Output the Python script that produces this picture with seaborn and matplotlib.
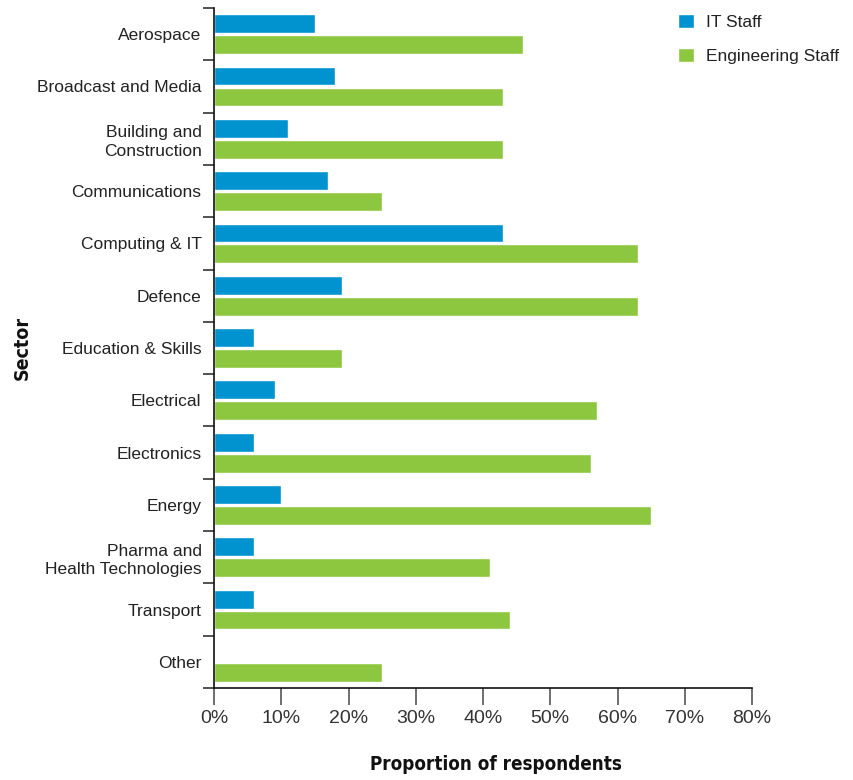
import numpy as np
import pandas as pd
import matplotlib
matplotlib.use("Agg")
import matplotlib.pyplot as plt
import seaborn as sns
from matplotlib.ticker import PercentFormatter

sectors = [
    "Aerospace", "Broadcast and Media", "Building and\nConstruction",
    "Communications", "Computing & IT", "Defence", "Education & Skills",
    "Electrical", "Electronics", "Energy", "Pharma and\nHealth Technologies",
    "Transport", "Other",
]
it_staff = [15, 18, 11, 17, 43, 19, 6, 9, 6, 10, 6, 6, 0]
eng_staff = [46, 43, 43, 25, 63, 63, 19, 57, 56, 65, 41, 44, 25]
groups = ["IT Staff", "Engineering Staff"]
colors = ["#0093D0", "#8DC63F"]
x_ticks = [0, 10, 20, 30, 40, 50, 60, 70, 80]

df = pd.DataFrame({
    "Sector": sectors * 2,
    "Value": it_staff + eng_staff,
    "Group": [groups[0]] * len(sectors) + [groups[1]] * len(sectors),
})

sns.set_theme(style="white")
plt.rcParams["font.family"] = ["Liberation Sans", "DejaVu Sans"]

fig = plt.figure(figsize=(8.54, 7.8), dpi=100)
ax = fig.add_axes([0.2506, 0.1179, 0.63, 0.8718])

sns.barplot(data=df, y="Sector", x="Value", hue="Group", orient="h",
            palette=colors, width=0.8, gap=0.1, saturation=1,
            order=sectors, hue_order=groups, ax=ax, legend=True)

ax.set_xlim(0, 80)
ax.set_ylim(len(sectors) - 0.5, -0.5)
ax.set_xticks(x_ticks)
ax.xaxis.set_major_formatter(PercentFormatter(decimals=0))
ax.tick_params(axis="x", direction="out", length=12, width=1.2,
               color="#555555", labelsize=14, labelcolor="#333333", pad=4,
               bottom=True)
ax.tick_params(axis="y", which="major", length=0, labelsize=12.5,
               labelcolor="#222222", pad=9)
ax.set_yticks(np.arange(-0.5, len(sectors)), minor=True)
ax.tick_params(axis="y", which="minor", direction="out", length=8,
               width=1.2, color="#333333", left=True)

for s in ["top", "right"]:
    ax.spines[s].set_visible(False)
for s in ["left", "bottom"]:
    ax.spines[s].set_color("#111111")
    ax.spines[s].set_linewidth(1.2)

ax.set_xlabel("Proportion of respondents", fontsize=13.5, fontweight="bold",
              family="DejaVu Sans", fontstretch="condensed", color="#111111")
ax.xaxis.set_label_coords(0.524, -0.098)
ax.set_ylabel("Sector", fontsize=14, fontweight="bold",
              family="DejaVu Sans", fontstretch="condensed",
              labelpad=4, color="#111111")

handles, labels = ax.get_legend_handles_labels()
ax.legend_.remove()
fig.legend(handles, labels, loc="upper left", bbox_to_anchor=(0.776, 1.002),
           frameon=False, fontsize=12.5, handlelength=0.9, handleheight=0.9,
           handletextpad=0.7, labelspacing=1.0, labelcolor="#222222")

fig.canvas.draw()
for lbl in ax.get_yticklabels():
    lbl.set_linespacing(1.3)

fig.savefig("out.png", dpi=100)
